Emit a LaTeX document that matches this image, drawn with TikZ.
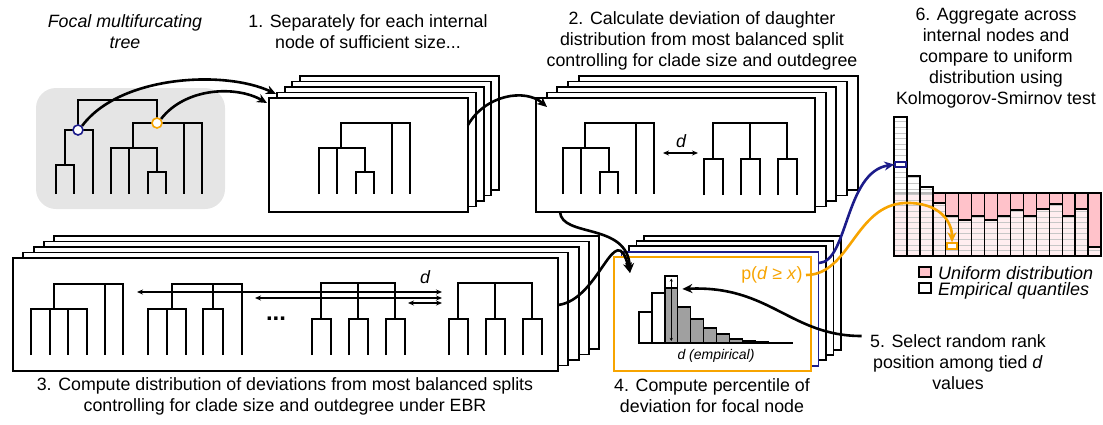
\documentclass[tikz,border=0pt]{standalone}
\usepackage{fontspec}
\setmainfont{Liberation Sans}
\usetikzlibrary{arrows.meta}
\definecolor{navyline}{HTML}{1C1C8A}
\definecolor{ochre}{HTML}{F7A400}
\definecolor{unifpink}{HTML}{FFC2CA}
\definecolor{tiegrey}{HTML}{A0A0A0}
\definecolor{panelgrey}{HTML}{E5E5E5}
\newcommand{\lbl}{\fontsize{17.8}{21}\selectfont}
\newcommand{\quantiles}{117,176,187,203,216,220,216,220,216,210,216,209,204,216,209,247}
% star + cherry clade, as under the orange node
\newcommand{\cladetree}[1]{\draw[tree,shift={#1}] (0,25) |- (69,0) -- (69,71) (51,0) -- (51,71)
  (-22,71) |- (24,25) -- (24,49) (-4,25) -- (-4,71) (15,71) |- (33,49) -- (33,71);}
% most balanced split: three cherries
\newcommand{\balancedtree}[1]{\draw[tree,shift={#1}] (0,36) |- (74,0) -- (74,36) (37,0) -- (37,36)
  foreach \cx in {0,37,74} {(\cx-9.5,72) |- (\cx+9.5,36) -- (\cx+9.5,72)};}

\begin{document}
\begin{tikzpicture}[x=1pt,y=-1pt,
  card/.style={draw,fill=white,line width=1.9pt,inner sep=0pt,outer sep=0pt},
  tree/.style={line width=2pt},
  conn/.style={line width=2.6pt,-{Stealth[length=10pt,width=9pt]}},
  darrow/.style={line width=1.4pt,{Stealth[length=6pt,width=5pt]}-{Stealth[length=6pt,width=5pt]}},
  bar/.style={draw,line width=1.4pt},
  stripe/.style={black!22,line width=0.5pt},
  every node/.style={font=\lbl,align=center}]
\useasboundingbox (0,0) rectangle (1103,424);

% focal tree
\fill[panelgrey,rounded corners=20pt] (36,88) rectangle (225,209);
\draw[tree] (78,130) |- (157,100) -- (157,123)
  (65,165) |- (93,130) -- (93,194) (56,194) |- (74,165) -- (74,194);
\cladetree{(133,123)}
\node[circle,draw=navyline,fill=white,line width=1.6pt,minimum size=10pt,inner sep=0pt] (blueN) at (78,130) {};
\node[circle,draw=ochre,fill=white,line width=1.6pt,minimum size=10pt,inner sep=0pt] (orangeN) at (157,123) {};

% step 1
\foreach \k in {4,3,2,1} \draw[card] (269+\k*7.8,98-\k*5.5) rectangle +(199,114);
\node[card,minimum width=199pt,minimum height=114pt] (box1) at (368.5,155) {};
\cladetree{(341,123)}

% step 2
\foreach \k in {4,3,2,1} \draw[card] (536+\k*10.7,98-\k*5.5) rectangle +(279,114);
\node[card,minimum width=279pt,minimum height=114pt] (box2) at (675.5,155) {};
\cladetree{(585,123)}
\balancedtree{(713,123)}
\draw[darrow] (663,153) -- (698,153);
\node[font=\lbl\itshape] (d2) at (681,141) {d};

% step 3
\foreach \k in {4,3,2,1} \draw[card] (13+\k*10.3,258-\k*5.5) rectangle +(545,113);
\node[card,minimum width=545pt,minimum height=113pt] (box3) at (285.5,314.5) {};
\draw[tree,shift={(54,284)}] (0,25) |- (69,0) -- (69,71) (51,0) -- (51,71)
  (-23,71) |- (33,25) -- (33,71) (-4,25) -- (-4,71) (14,25) -- (14,71);
\draw[tree,shift={(172,284)}] (0,25) |- (70,0) -- (70,71) (41,0) -- (41,25)
  (-24,71) |- (14,25) -- (14,71) (-5,25) -- (-5,71) (31,71) |- (51,25) -- (51,71);
\node[font=\fontsize{24}{24}\selectfont\bfseries] (dots) at (276,319) {...};
\balancedtree{(321,283)}
\balancedtree{(458,283)}
\foreach \x/\y in {137/292,255/298,408/303} \draw[darrow] (\x,\y) -- (442,\y);
\node[font=\lbl\itshape] (d3) at (425,277) {d};

% step 4
\foreach \k in {4,3,2} \draw[card] (614+\k*7.5,257-\k*5.3) rectangle +(197,114);
\draw[card,draw=navyline,line width=1.6pt] (621.5,251.7) rectangle +(197,114);
\node[card,draw=ochre,line width=2.2pt,minimum width=197pt,minimum height=114pt] (box4) at (712.5,314) {};
\foreach \hgt/\fc [count=\i from 0] in {312/white,293/white,288/tiegrey,307/tiegrey,319/tiegrey,
  328/tiegrey,334/tiegrey,339/tiegrey,341/tiegrey,342/tiegrey}
  \draw[bar,fill=\fc] (639+\i*12.9,\hgt) rectangle +(12.9,343-\hgt);
\node[draw,fill=white,line width=1.4pt,minimum width=12.9pt,minimum height=12pt,inner sep=0pt] (tiebox) at (671.25,282) {};
\draw[line width=0.8pt,{Stealth[length=3pt,width=3pt]}-{Stealth[length=3pt,width=3pt]}] (671.25,278.5) -- (671.25,341);
\draw[line width=1.8pt] (639,343) -- (793,343);
\node[font=\fontsize{14}{14}\selectfont\itshape] (dlab) at (716,356) {d (empirical)};
\node[text=ochre,anchor=east] (pval) at (806,275) {p(\textit{d} ≥ \textit{x})};
\coordinate (pblue) at (819,263);

% step 6 histogram
\foreach \emp [count=\i from 0] in \quantiles
  \draw[bar,fill=unifpink] (894+\i*12.94,193) rectangle +(12.94,63);
\foreach \emp [count=\i from 0] in \quantiles
  \fill[white,fill opacity=0.72] (894+\i*12.94,\emp) rectangle (906.94+\i*12.94,256);
\begin{scope}
\clip foreach \emp [count=\i from 0] in \quantiles {(894+\i*12.94,\emp) rectangle (906.94+\i*12.94,256)};
\foreach \s in {1,...,25} \draw[stripe] (894,256-\s*5.6) -- (1101,256-\s*5.6);
\end{scope}
\foreach \emp [count=\i from 0] in \quantiles
  \draw[bar] (894+\i*12.94,\emp) rectangle (906.94+\i*12.94,256);
\node[draw=navyline,fill=white,line width=1.4pt,minimum width=11pt,minimum height=5pt,inner sep=0pt] (bluecell) at (900.5,164.5) {};
\node[draw=ochre,fill=white,line width=1.4pt,minimum width=10pt,minimum height=6pt,inner sep=0pt] (orangecell) at (952,246) {};
\draw[bar,line width=1.2pt,fill=unifpink] (919,267) rectangle (931,277);
\draw[bar,line width=1.2pt,fill=white] (919,283) rectangle (931,293);
\node[font=\fontsize{18}{16}\selectfont\itshape,align=left,anchor=west,inner sep=1pt] (legend) at (937,283)
  {Uniform distribution\\Empirical quantiles};

% labels
\node[font=\lbl\itshape] (focal) at (125,32) {Focal multifurcating\\tree};
\node (step1) at (368,32) {1. Separately for each internal\\node of sufficient size...};
\node (step2) at (702,41) {2. Calculate deviation of daughter\\distribution from most balanced split\\controlling for clade size and outdegree};
\node (step6) at (996,58) {6. Aggregate across\\internal nodes and\\compare to uniform\\distribution using\\Kolmogorov-Smirnov test};
\node (step3) at (285,396) {3. Compute distribution of deviations from most balanced splits\\controlling for clade size and outdegree under EBR};
\node (step4) at (712,396) {4. Compute percentile of\\deviation for focal node};
\node (step5) at (958,362) {5. Select random rank\\position among tied \textit{d}\\values};

% connectors
\draw[conn] (blueN.north east) .. controls (120,75) and (225,70) .. ([xshift=7pt,yshift=4pt]box1.north west);
\draw[conn] (orangeN.north east) .. controls (185,88) and (235,85) .. ([xshift=-2pt,yshift=-5pt]box1.north west);
\draw[conn] ([yshift=-27pt]box1.north east) .. controls (485,95) and (525,88) .. ([xshift=11pt,yshift=-9pt]box2.north west);
\draw[conn] ([xshift=24pt]box2.south west) .. controls (562,238) and (628,222) .. ([xshift=16pt,yshift=-16pt]box4.north west);
\draw[conn] ([yshift=9.5pt]box3.east) .. controls (600,300) and (615,215) .. ([xshift=16pt,yshift=-16pt]box4.north west);
\draw[conn] ([xshift=-5pt,yshift=26pt]step5.west) .. controls (790,336) and (770,285) .. ([xshift=4pt,yshift=-7pt]tiebox.east);
\draw[conn,draw=navyline] (pblue) .. controls (848,262) and (845,172) .. (bluecell.west);
\draw[conn,draw=ochre] (pval.east) .. controls (850,275) and (855,205) .. (905,203) .. controls (940,202) and (952,222) .. (orangecell.north);
\end{tikzpicture}
\end{document}
